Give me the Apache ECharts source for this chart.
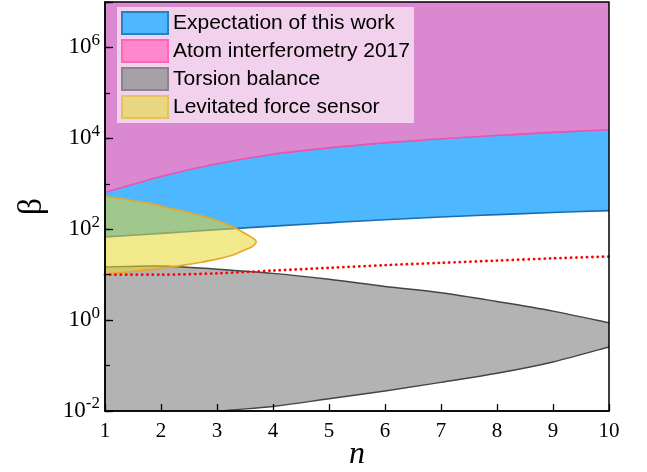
<!DOCTYPE html>
<html>
<head>
<meta charset="utf-8">
<script src="https://cdn.jsdelivr.net/npm/echarts@6/dist/echarts.min.js"></script>
<style>
  html, body { margin: 0; padding: 0; background: #fff; }
  #chart { width: 647px; height: 472px; }
</style>
</head>
<body>
<div id="chart"></div>
<script>
// Sample positions along n
const nValues = [1, 2, 3, 4, 5, 6, 7, 8, 9, 10];

// Atom interferometry 2017: excluded above this boundary
const atomBound = [646, 1450, 2750, 4470, 6170, 7940, 9770, 11500, 13500, 15500];
// Expectation of this work: lower edge of the projected region
const expectLower = [68, 81, 98, 117, 138, 162, 186, 209, 234, 257];
// Torsion balance: excluded between these two edges
const torsionUpper = [14.8, 15.5, 13.2, 10.7, 7.9, 5.5, 4.0, 2.57, 1.58, 0.87];
const torsionLower = [0.004, 0.0065, 0.0098, 0.0126, 0.0186, 0.0275, 0.0427, 0.0676, 0.120, 0.257];
// Reference dotted curve
const dottedCurve = [10, 10, 10.7, 12.3, 14.1, 16.2, 18.2, 20.4, 22.9, 25.1];

// Levitated force sensor: closed contour (upper branch, lower branch)
const levUpperN = [1, 1.2, 1.5, 1.8, 2.1, 2.4, 2.7, 3.0, 3.3, 3.47, 3.62, 3.7];
const levUpper  = [520, 487, 425, 370, 302, 251, 200, 155, 110, 85, 66, 54];
const levLowerN = [1, 1.2, 1.5, 1.8, 2.1, 2.4, 2.7, 3.0, 3.3, 3.47, 3.62];
const levLower  = [9.8, 10.8, 11.7, 12.9, 14.4, 16.2, 18.6, 22, 27.5, 34, 41];

// Axis settings
const nTicks = [1, 2, 3, 4, 5, 6, 7, 8, 9, 10];
const betaMin = 0.01, betaMax = 1e7;

const legendNames = ['Expectation of this work', 'Atom interferometry 2017', 'Torsion balance', 'Levitated force sensor'];

function pts(api, xs, ys) {
  return xs.map((x, i) => api.coord([x, ys[i]]));
}

// Catmull-Rom spline through pixel points, as cubic Bezier path segments
function splineSegs(p) {
  let d = '';
  for (let i = 0; i < p.length - 1; i++) {
    const p0 = p[Math.max(i - 1, 0)], p1 = p[i], p2 = p[i + 1], p3 = p[Math.min(i + 2, p.length - 1)];
    const c1 = [p1[0] + (p2[0] - p0[0]) / 6, p1[1] + (p2[1] - p0[1]) / 6];
    const c2 = [p2[0] - (p3[0] - p1[0]) / 6, p2[1] - (p3[1] - p1[1]) / 6];
    d += ' C' + c1[0] + ',' + c1[1] + ' ' + c2[0] + ',' + c2[1] + ' ' + p2[0] + ',' + p2[1];
  }
  return d;
}
function splinePath(p) {
  return 'M' + p[0][0] + ',' + p[0][1] + splineSegs(p);
}
function bandPath(up, lo) {
  const r = lo.slice().reverse();
  return splinePath(up) + ' L' + r[0][0] + ',' + r[0][1] + splineSegs(r) + ' Z';
}

function regionSeries(name, legendStyle, z, build) {
  return {
    type: 'custom',
    name: name,
    coordinateSystem: 'cartesian2d',
    clip: true,
    silent: true,
    z: z,
    itemStyle: legendStyle,
    data: [[1, 1]],
    renderItem: function (params, api) {
      return { type: 'group', children: build(api) };
    }
  };
}

function pathEl(d, style) {
  return { type: 'path', shape: { pathData: d }, style: style };
}

const chart = echarts.init(document.getElementById('chart'), null, { renderer: 'canvas' });

const serif = 'Liberation Serif, Times New Roman, serif';

const option = {
  animation: false,
  backgroundColor: '#ffffff',
  grid: {
    left: 105, right: 38, top: 2, bottom: 61,
    containLabel: false, outerBoundsMode: 'none',
    show: true, borderColor: '#000', borderWidth: 1.5, backgroundColor: 'transparent', z: 10
  },
  legend: {
    data: legendNames,
    orient: 'vertical',
    left: 117, top: 7,
    padding: [4, 4, 4, 4],
    itemWidth: 46, itemHeight: 22, itemGap: 4,
    icon: 'rect',
    backgroundColor: '#F1D1EC',
    textStyle: { fontFamily: 'Liberation Sans, Arial, sans-serif', fontSize: 21, color: '#000' },
    selectedMode: false,
    z: 20
  },
  xAxis: {
    type: 'value',
    min: nTicks[0], max: nTicks[nTicks.length - 1], interval: 1,
    name: 'n',
    nameLocation: 'middle',
    nameGap: 28,
    nameMoveOverlap: false,
    nameTextStyle: { fontFamily: serif, fontStyle: 'italic', fontSize: 32, color: '#000' },
    axisLine: { lineStyle: { color: '#000', width: 1.5 } },
    axisTick: { inside: true, length: 7, lineStyle: { color: '#000', width: 1.3 } },
    axisLabel: { fontFamily: serif, fontSize: 21, color: '#000', margin: 10 },
    splitLine: { show: false },
    z: 12
  },
  yAxis: [{
    type: 'log', logBase: 10,
    min: betaMin, max: betaMax, interval: 2,
    name: 'β',
    nameLocation: 'middle',
    nameGap: 56,
    nameTextStyle: { fontFamily: serif, fontSize: 34, color: '#000' },
    axisLine: { lineStyle: { color: '#000', width: 1.5 } },
    axisTick: { inside: true, length: 8, lineStyle: { color: '#000', width: 1.3 } },
    axisLabel: {
      margin: 5,
      formatter: function (v) {
        const e = Math.round(Math.log10(v));
        if (e % 2 !== 0 || e > 6) return '';
        return '{b|10}{s|' + e + '}';
      },
      rich: {
        b: { fontFamily: serif, fontSize: 23, color: '#000' },
        s: { fontFamily: serif, fontSize: 17, color: '#000', verticalAlign: 'bottom', padding: [0, 0, 14, 0] }
      }
    },
    splitLine: { show: false },
    z: 12
  }, {
    type: 'log', logBase: 10,
    min: betaMin, max: betaMax, interval: 1,
    position: 'left',
    axisLine: { show: false },
    axisTick: { inside: true, length: 5, lineStyle: { color: '#000', width: 1.2 } },
    axisLabel: { show: false },
    splitLine: { show: false },
    z: 12
  }],
  series: [
    regionSeries(legendNames[1], { color: '#FF88CC', borderColor: '#FF66BB', borderWidth: 1 }, 2, function (api) {
      const up = pts(api, nValues, atomBound);
      const tl = api.coord([nValues[0], betaMax]), tr = api.coord([nValues[nValues.length - 1], betaMax]);
      const d = splinePath(up) + ' L' + tr[0] + ',' + tr[1] + ' L' + tl[0] + ',' + tl[1] + ' Z';
      return [pathEl(d, { fill: '#DA88D0' })];
    }),
    regionSeries(legendNames[0], { color: '#4DB8FF', borderColor: '#2A80C0', borderWidth: 1 }, 3, function (api) {
      const up = pts(api, nValues, atomBound);
      const lo = pts(api, nValues, expectLower);
      return [
        pathEl(bandPath(up, lo), { fill: '#4DB8FF' }),
        pathEl(splinePath(up), { stroke: '#F24FAE', lineWidth: 1.6, fill: null }),
        pathEl(splinePath(lo), { stroke: '#1A6DB0', lineWidth: 1.6, fill: null })
      ];
    }),
    regionSeries(legendNames[2], { color: '#A8A0A8', borderColor: '#8A848A', borderWidth: 1 }, 4, function (api) {
      const up = pts(api, nValues, torsionUpper);
      const lo = pts(api, nValues, torsionLower);
      return [
        pathEl(bandPath(up, lo), { fill: '#B3B3B3' }),
        pathEl(splinePath(up), { stroke: '#444444', lineWidth: 1.4, fill: null }),
        pathEl(splinePath(lo), { stroke: '#444444', lineWidth: 1.4, fill: null })
      ];
    }),
    regionSeries(legendNames[3], { color: '#E8D680', borderColor: '#E8C060', borderWidth: 1 }, 5, function (api) {
      const up = pts(api, levUpperN, levUpper);
      const lo = pts(api, levLowerN, levLower);
      const loop = up.concat(lo.slice().reverse());
      return [pathEl(splinePath(loop) + ' Z', { fill: 'rgba(232,214,45,0.55)', stroke: '#E8A72A', lineWidth: 1.6 })];
    }),
    {
      type: 'line',
      name: 'dotted',
      data: nValues.map((n, i) => [n, dottedCurve[i]]),
      symbol: 'none',
      smooth: 0.3,
      silent: true,
      z: 6,
      lineStyle: { color: '#FF0000', width: 2.8, type: [0.1, 5.2], cap: 'round' }
    }
  ]
};

chart.setOption(option);
</script>
</body>
</html>
